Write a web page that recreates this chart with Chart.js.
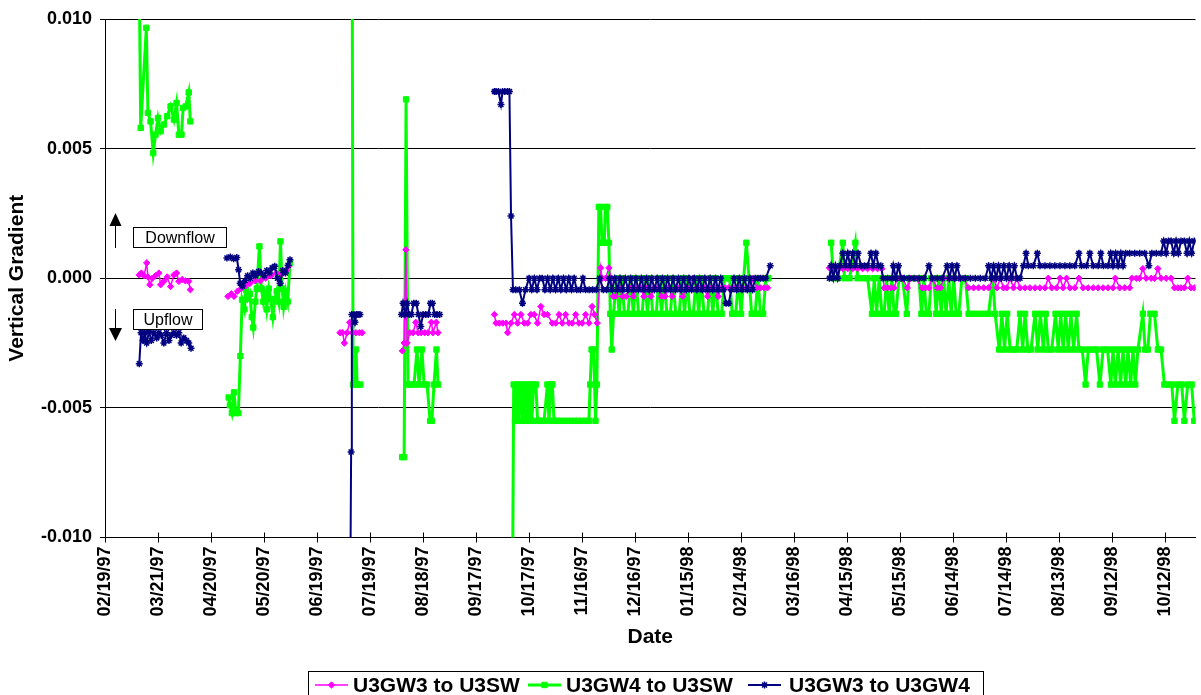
<!DOCTYPE html>
<html>
<head>
<meta charset="utf-8">
<title>Vertical Gradient</title>
<script src="https://cdn.jsdelivr.net/npm/chart.js@4.4.1/dist/chart.umd.min.js"></script>
<style>
  html, body { margin: 0; padding: 0; background: #fff; }
  #wrap { width: 1201px; height: 695px; }
</style>
</head>
<body>
<div id="wrap"><canvas id="gradient-chart" width="1201" height="695"></canvas></div>
<script>
// days counted from 02/19/97, value = vertical gradient; null breaks the line
const gw3sw = [
  // Mar-Apr 97
  [19.3, 0.00013], [20.6, 0.0002], [22.1, 0.0001], [23.6, 0.00059], [24.3, 0.00005], [25.4, -0.00025],
  [26.8, 0], [28.6, 0.0001], [30.5, 0.0002], [31.5, -0.00025], [33.3, -0.00012], [35.2, 0.00005],
  [37.1, -0.00032], [39, 0.00013], [40.5, 0.0002], [41.8, -0.00012], [43.7, -0.00005], [45.5, -0.0001],
  [47.4, -0.00012], [48.3, -0.00044],
  [55, null],
  // May-Jun 97
  [69.6, -0.0007], [71.5, -0.0006], [73, -0.0007], [75, -0.0005], [77, -0.0004], [79.5, -0.0003],
  [82, -0.0002], [85, -0.0001], [88, -0.0001], [91, 0], [94, 0.0001], [97, 0.0002], [100, 0.00015],
  [102.5, 0.0003], [104, 0.00046],
  [120, null],
  // Jul 97
  [133, -0.0021], [134.5, -0.0021], [135.5, -0.0025], [137, -0.0021], [138.5, -0.0017], [140, -0.0021],
  [142, -0.0021], [144, -0.0021], [145.5, -0.0021],
  [155, null],
  // Aug 97
  [168.3, -0.0028], [169.3, -0.0025], [170.3, 0.0011], [171, -0.0025], [172.5, -0.0021], [174.4, -0.0021],
  [175.9, -0.0017], [177.2, -0.0021], [179, -0.0021], [181, -0.0021], [182.8, -0.0021], [184.7, -0.0017],
  [185.6, -0.0021], [187.5, -0.0017], [188.5, -0.0021],
  [200, null],
  // Oct 97 - Mar 98
  [220.4, -0.0014], [221.3, -0.00173], [223.2, -0.00173], [225.1, -0.00173], [227, -0.00173], [227.9, -0.0021],
  [229.8, -0.00173], [231.7, -0.0014], [233.5, -0.00173], [235.4, -0.0014], [237.3, -0.00173], [239.2, -0.00173],
  [241, -0.0014], [242.9, -0.0014], [244.8, -0.00173], [246.7, -0.00109], [248.5, -0.0014], [250.4, -0.0014],
  [253.2, -0.00173], [255.1, -0.00173], [257, -0.0014], [258.8, -0.00173], [260.7, -0.0014], [262.6, -0.00173],
  [264.5, -0.00173], [266.4, -0.0014], [268.2, -0.00173], [270.1, -0.00173], [272, -0.0014], [273.9, -0.00173],
  [275.7, -0.00109], [277, -0.0014], [278.6, -0.00173], [280.5, 0.0004], [281.4, 0], [283.3, 0],
  [285.2, 0.0004], [286.5, 0], [287.6, -0.0007], [289, -0.0007], [291, -0.00037], [293, -0.0007],
  [295, -0.0007], [297, -0.00037], [299, -0.0007], [301, -0.00037], [303, -0.00037], [305, -0.0007],
  [307, -0.00037], [309, -0.0007], [311, -0.00037], [313, -0.00037], [315, -0.0007], [317, -0.0007],
  [319, -0.00037], [321, -0.0007], [323, -0.00037], [325, -0.00037], [327, -0.0007], [329, -0.00037],
  [331, -0.00037], [333, 0], [335, -0.00037], [337, -0.00037], [339, -0.00037], [341, -0.0007],
  [343, -0.00037], [345, -0.00037], [347, -0.0007], [349, -0.00037], [351, -0.00037], [353, -0.00037],
  [355, -0.00037], [357, -0.00037], [359, -0.00037], [361, -0.00037], [363, -0.00037], [365, -0.00037],
  [367, 0], [369, -0.00037], [371, -0.00037], [373, -0.00037], [375, -0.00037],
  [392, null],
  // Apr-Oct 98
  [410, 0.0004], [412, 0.0004], [413.8, 0.0004], [415.7, 0.0004], [417.6, 0.00037], [420.4, 0.00037],
  [423.2, 0.00037], [426, 0.00037], [428.8, 0.00037], [431.6, 0.00037], [434.5, 0.00037], [437.3, 0.00037],
  [439.7, 0.00037], [441, -0.00037], [442.9, -0.00037], [444.8, -0.00037], [446.6, -0.00037], [448.5, 0],
  [451.3, 0], [454.1, -0.00037], [456, 0], [458.8, 0], [462.5, -0.00037], [464.4, -0.00037],
  [466.3, -0.00037], [468.2, 0], [471, -0.00037], [472.9, -0.00037], [474.7, 0], [477.6, 0],
  [480.4, 0], [483.2, 0], [486, 0], [488.8, -0.00037], [491.6, -0.00037], [494.4, -0.00037],
  [497.3, -0.00037], [500.1, -0.00037], [502.9, 0], [504.8, -0.00037], [506.7, 0], [508.5, -0.00037],
  [510.4, -0.00037], [512.3, 0], [514.2, -0.00037], [516, 0], [517.9, -0.00037], [520.7, -0.00037],
  [523.5, -0.00037], [526.4, -0.00037], [529.2, -0.00037], [532, -0.00037], [533.9, 0], [535.8, -0.00037],
  [538.6, -0.00037], [540.5, 0], [542.3, -0.00037], [544.2, 0], [546.1, -0.00037], [548.9, -0.00037],
  [551.2, 0], [553.6, -0.00037], [556.4, -0.00037], [559.3, -0.00037], [562.1, -0.00037], [564.9, -0.00037],
  [567.7, -0.00037], [570.5, -0.00037], [571.8, 0], [574.3, -0.00037], [577.1, -0.00037], [579.9, -0.00037],
  [581.2, 0], [583.7, 0], [585.6, 0], [587.4, 0.00037], [589.3, 0], [592.1, 0],
  [594, 0], [595.9, 0.00037], [597.7, 0], [600.6, 0], [603.4, 0], [605.3, -0.00037],
  [607.2, -0.00037], [609, -0.00037], [610.9, -0.00037], [612.8, 0], [614.7, -0.00037], [616.5, -0.00037],
  [619, -0.00037]
];

const gw4sw = [
  // Mar-Apr 97
  [19.4, 0.0115], [20.2, 0.0058], [23.4, 0.00966], [24.3, 0.00638], [25.8, 0.00605], [27.3, 0.00483],
  [28.6, 0.00554], [30, 0.00618], [31.5, 0.00567], [33.3, 0.00593], [35.2, 0.00625], [37.1, 0.00663],
  [39, 0.00612], [40.5, 0.00676], [41.8, 0.00554], [43.3, 0.00554], [44.2, 0.00657], [45.7, 0.00663],
  [47.4, 0.00717], [48.3, 0.00605],
  [55, null],
  // May-Jun 97
  [70, -0.0046], [70.7, -0.0049], [71.8, -0.0052], [73, -0.0044], [74.1, -0.0052], [75.5, -0.0052],
  [76.6, -0.003], [77.6, -0.00083], [78.9, -0.0012], [79.7, -0.00044], [80.8, -0.0008], [82, -0.0006],
  [83.1, -0.0015], [83.9, -0.0019], [85.1, -0.0009], [85.9, -0.0004], [87.4, 0.00123], [88.5, -0.0004],
  [89.6, -0.0009], [90.4, -0.0006], [91.5, -0.0012], [92.7, -0.0004], [93.8, -0.0008], [95, -0.0015],
  [96.1, -0.0008], [97.2, -0.0005], [98.3, -0.0009], [99.3, 0.00142], [100.3, -0.0004], [101.1, -0.0011],
  [102.3, -0.0005], [103.4, -0.0009], [104.7, 0.0006],
  [120, null],
  // Jul 97
  [139.9, 0.013], [140.4, -0.0041], [141.5, -0.0041], [142.1, -0.00275], [142.7, -0.0041], [144.5, -0.0041],
  [155, null],
  // Aug 97
  [168.2, -0.0069], [169.3, -0.0069], [170.4, 0.0069], [171.5, -0.0041], [173.2, -0.0041], [174.9, -0.0041],
  [176.6, -0.00275], [177.7, -0.0041], [179.4, -0.00275], [180.6, -0.0041], [182.3, -0.0041], [184, -0.0055],
  [185, -0.0055], [186.2, -0.0041], [187.6, -0.00275], [188.5, -0.0041],
  [200, null],
  // Oct 97 - Mar 98
  [230.7, -0.0115], [231.3, -0.0041], [232, -0.0055], [233.1, -0.0041], [233.9, -0.0055], [235, -0.0041],
  [236, -0.0055], [236.9, -0.0041], [237.9, -0.0055], [238.8, -0.0041], [239.7, -0.0055], [240.7, -0.0041],
  [241.6, -0.0055], [242.6, -0.0041], [243.9, -0.0041], [244.8, -0.0055], [245.7, -0.0055], [246.7, -0.0055],
  [248.5, -0.0055], [250.4, -0.0041], [251.3, -0.0055], [252.3, -0.0041], [253.2, -0.0041], [254.1, -0.0055],
  [256, -0.0055], [258, -0.0055], [260, -0.0055], [262, -0.0055], [264, -0.0055], [266, -0.0055],
  [268, -0.0055], [270, -0.0055], [272, -0.0055], [273.9, -0.0055], [274.6, -0.0041], [275.4, -0.00275],
  [276.6, -0.00275], [277.6, -0.0055], [278.4, -0.0041], [279.5, 0.00275], [280.5, 0.00275], [281.3, 0.00137],
  [282.6, 0.00137], [283.2, 0.00275], [284.3, 0.00275], [285.2, 0.00137], [286, -0.00137], [286.8, -0.00275],
  [287.8, -0.00137], [289.5, 0], [291, -0.00137], [292.5, 0], [294, -0.00137], [296, -0.00137],
  [297.5, 0], [299, -0.00137], [300.5, 0], [302, -0.00137], [304, -0.00137], [305.5, 0],
  [307, -0.00137], [308.5, 0], [310, -0.00137], [312, -0.00137], [313.5, 0], [315, -0.00137],
  [316.5, 0], [318, -0.00137], [320, -0.00137], [321.5, 0], [323, -0.00137], [325, -0.00137],
  [326.5, 0], [328, -0.00137], [329.5, 0], [331, -0.00137], [333, -0.00137], [334.5, 0],
  [336, -0.00137], [337.5, 0], [339, -0.00137], [341, -0.00137], [342.5, 0], [344, -0.00137],
  [345.5, 0], [347, -0.00137], [349, -0.00137], [350.5, 0], [352, 0], [353.5, 0],
  [355, -0.00137], [357, -0.00137], [358.5, 0], [360, -0.00137], [361.5, 0], [363, 0.00137],
  [364.5, 0], [366, -0.00137], [368, -0.00137], [369.5, 0], [371, -0.00137], [372.5, -0.00137],
  [374, 0], [375.5, 0],
  [392, null],
  // Apr-Oct 98
  [411, 0.00137], [412.3, 0], [414.7, 0], [417.6, 0.00137], [418.5, 0], [421.4, 0],
  [424.7, 0.00137], [426, 0], [428.8, 0], [431.6, 0], [434.1, -0.00137], [435.4, 0],
  [436.7, -0.00137], [438.2, 0], [439.7, -0.00137], [441, -0.00137], [442.3, 0], [443.8, -0.00137],
  [445.4, 0], [446.6, -0.00137], [447.6, -0.00137], [449.4, 0], [451.3, 0], [453.8, -0.00137],
  [455, 0], [457.8, 0], [460.7, 0], [462.1, -0.00137], [463.5, 0], [464.8, -0.00137],
  [466.3, -0.00137], [467.6, 0], [469.1, 0], [470.4, -0.00137], [471.9, 0], [473.3, -0.00137],
  [474.7, 0], [476, -0.00137], [477.6, 0], [478.9, -0.00137], [480.4, 0], [481.7, -0.00137],
  [483.2, -0.00137], [485, 0], [487, 0], [488.8, -0.00137], [491.6, -0.00137], [494.4, -0.00137],
  [497.3, -0.00137], [500.1, -0.00137], [502.4, 0], [503.8, -0.00137], [506.1, -0.00275], [507.6, -0.00137],
  [509.1, -0.00275], [510.6, -0.00137], [512.3, -0.00275], [514.2, -0.00275], [516, -0.00275], [517.9, -0.00137],
  [519.4, -0.00275], [520.7, -0.00137], [522.3, -0.00275], [524.1, -0.00275], [526.4, -0.00137], [527.9, -0.00275],
  [529.4, -0.00137], [531.1, -0.00275], [532.4, -0.00137], [533.9, -0.00275], [535.8, -0.00275], [538, -0.00137],
  [539.5, -0.00275], [540.9, -0.00137], [542.3, -0.00275], [543.7, -0.00137], [545.2, -0.00275], [546.7, -0.00137],
  [548.2, -0.00275], [549.9, -0.00137], [551.2, -0.00275], [553.1, -0.00275], [555, -0.0041], [556.5, -0.00275],
  [559.3, -0.00275], [561.2, -0.00275], [563.1, -0.0041], [564.9, -0.00275], [567.4, -0.00275], [569.3, -0.0041],
  [570.5, -0.00275], [571.8, -0.0041], [573.4, -0.00275], [574.8, -0.0041], [576.2, -0.00275], [577.7, -0.0041],
  [579, -0.00275], [580.5, -0.0041], [581.8, -0.00275], [583.1, -0.0041], [584.6, -0.00275], [587.4, -0.00137],
  [588.7, -0.00275], [590.2, -0.00275], [591.7, -0.00137], [594, -0.00137], [595.9, -0.00275], [597.7, -0.00275],
  [599.6, -0.0041], [601.5, -0.0041], [603.8, -0.0041], [605.3, -0.0055], [607.2, -0.0041], [609.4, -0.0041],
  [610.9, -0.0055], [612.8, -0.0041], [615, -0.0041], [616.5, -0.0055], [619, -0.0055]
];

const gw3gw4 = [
  // Mar-Apr 97
  [19.4, -0.0033], [20.4, -0.0021], [21.5, -0.0024], [22.5, -0.0021], [23.6, -0.0025], [24.9, -0.00205],
  [26.2, -0.0024], [27.7, -0.0021], [29.3, -0.0023], [30.5, -0.0021], [31.9, -0.0022], [33.3, -0.0025],
  [34.8, -0.0021], [36.2, -0.0024], [37.5, -0.0022], [39, -0.0021], [40.5, -0.0022], [41.8, -0.0021],
  [43.1, -0.0025], [44.6, -0.0023], [46.1, -0.0024], [47.4, -0.0025], [48.7, -0.0027],
  [55, null],
  // May-Jun 97
  [69, 0.00078], [70.9, 0.00082], [72.8, 0.00075], [74.6, 0.0008], [75.6, 0.00033], [76.5, -0.00019],
  [77.8, -0.0003], [79.3, -0.0001], [80.7, 0.0001], [82.2, 0], [83.7, 0.0002], [85.2, 0.0001],
  [86.9, 0.00026], [88.4, 0.0002], [90.1, 0.0001], [91.6, 0.0003], [93.1, 0.0002], [94.6, 0.0004],
  [96.1, 0.00046], [97.6, 0], [99.1, -0.00019], [100.6, 0.0003], [102.1, 0.0002], [103.6, 0.0005],
  [104.7, 0.00071],
  [120, null],
  // Jul 97
  [138.8, -0.0125], [139.3, -0.0067], [139.7, -0.0014], [140.8, -0.0014], [141.5, -0.0017], [142.3, -0.0014],
  [143.2, -0.0014], [144.3, -0.0014],
  [155, null],
  // Aug 97
  [167.8, -0.0014], [168.7, -0.00096], [169.9, -0.0014], [171, -0.00096], [172.1, -0.0014], [173.4, -0.0014],
  [174.7, -0.00096], [176.2, -0.00096], [177.4, -0.0014], [178.7, -0.00186], [180, -0.0014], [181.5, -0.0014],
  [183, -0.0014], [184.2, -0.00096], [185.3, -0.00096], [186.6, -0.0014], [187.9, -0.0014], [189.4, -0.0014],
  [200, null],
  // Oct 97 - Mar 98
  [220.4, 0.0072], [221.3, 0.0072], [222.7, 0.0072], [224.1, 0.0067], [225, 0.0072], [226.3, 0.0072],
  [227.8, 0.0072], [228.9, 0.0072], [229.8, 0.0024], [230.9, -0.00044], [232.5, -0.00044], [234.5, -0.00044],
  [236.3, -0.00096], [238, -0.00044], [240, 0], [241.5, -0.00044], [243, 0], [244.5, -0.00044],
  [246, 0], [247.5, 0], [249, -0.00044], [250.5, 0], [252, -0.00044], [253.5, 0],
  [255, -0.00044], [256.5, 0], [258, -0.00044], [259.5, 0], [261, -0.00044], [262.5, 0],
  [264, -0.00044], [265.5, 0], [267, -0.00044], [269, -0.00044], [270.5, 0], [272, -0.00044],
  [274, -0.00044], [276, -0.00044], [278, -0.00044], [280, 0], [282, -0.00044], [284, -0.00044],
  [285.5, 0], [287, -0.00044], [288.5, 0], [290, -0.00044], [291.5, 0], [293, -0.00044],
  [294.5, 0], [296, -0.00044], [297.5, 0], [299, -0.00044], [300.5, 0], [302, -0.00044],
  [303.5, 0], [305, -0.00044], [306.5, 0], [308, -0.00044], [309.5, 0], [311, -0.00044],
  [312.5, 0], [314, -0.00044], [315.5, 0], [317, -0.00044], [318.5, 0], [320, -0.00044],
  [321.5, 0], [323, -0.00044], [324.5, 0], [326, -0.00044], [327.5, 0], [329, -0.00044],
  [330.5, 0], [332, -0.00044], [333.5, 0], [335, -0.00044], [336.5, 0], [338, -0.00044],
  [339.5, 0], [341, -0.00044], [342.5, 0], [344, -0.00044], [345.5, 0], [347, -0.00044],
  [348.5, 0], [350, -0.00044], [351.5, -0.00096], [353, -0.00096], [354.5, -0.00044], [356, 0],
  [357.5, -0.00044], [359, 0], [360.5, -0.00044], [362, 0], [363.5, -0.00044], [365, 0],
  [366.5, -0.00044], [368, 0], [369.5, 0], [371, 0], [372.5, 0], [374, 0],
  [376.5, 0.00048],
  [392, null],
  // Apr-Oct 98
  [410, 0], [411, 0.00048], [412.2, 0], [413.4, 0.00048], [414.7, 0], [416, 0.00048],
  [417.6, 0.00096], [419.1, 0.00048], [420.4, 0.00096], [421.7, 0.00048], [423.2, 0.00096], [424.7, 0.00048],
  [426.2, 0.00096], [427.9, 0.00048], [429.8, 0.00048], [431.6, 0.00048], [433.5, 0.00096], [434.8, 0.00048],
  [436.3, 0.00096], [437.8, 0.00048], [439.1, 0.00048], [440.4, 0], [442.9, 0], [445.4, 0],
  [446.2, 0.00048], [447.6, 0], [449.1, 0.00048], [450.6, 0], [452.3, 0], [455.1, 0],
  [457.9, 0], [460.8, 0], [463.5, 0], [466.3, 0.00048], [468.2, 0], [471, 0],
  [473.8, 0], [476.6, 0.00048], [477.9, 0], [479.4, 0.00048], [480.9, 0], [482.2, 0.00048],
  [484.1, 0], [486.9, 0], [489.8, 0], [492.6, 0], [495.4, 0], [498.2, 0],
  [500.1, 0.00048], [501.6, 0], [502.9, 0.00048], [504.4, 0], [505.7, 0.00048], [507.2, 0],
  [508.7, 0.00048], [510.2, 0], [511.7, 0.00048], [513.2, 0], [514.7, 0.00048], [516.2, 0],
  [517.9, 0], [519.8, 0.00048], [521.3, 0.00096], [522.6, 0.00048], [525.4, 0.00048], [527.7, 0.00096],
  [529.2, 0.00048], [532, 0.00048], [534.8, 0.00048], [537.6, 0.00048], [540.5, 0.00048], [543.3, 0.00048],
  [546.1, 0.00048], [548.9, 0.00048], [551.2, 0.00096], [552.7, 0.00048], [555.5, 0.00048], [557.4, 0.00096],
  [559.3, 0.00048], [562.1, 0.00048], [563.6, 0.00096], [565.1, 0.00048], [567.7, 0.00048], [569.2, 0.00096],
  [570.5, 0.00048], [572, 0.00096], [573.4, 0.00048], [574.9, 0.00096], [576.2, 0.00048], [577.7, 0.00096],
  [579.9, 0.00096], [582.8, 0.00096], [585.6, 0.00096], [588.4, 0.00096], [590.8, 0.00048], [592.5, 0.00096],
  [595, 0.00096], [597.7, 0.00096], [599.2, 0.00144], [600.6, 0.00096], [601.9, 0.00144], [603.4, 0.00144],
  [604.9, 0.00096], [606.2, 0.00144], [607.5, 0.00096], [609, 0.00144], [610.9, 0.00144], [612.4, 0.00096],
  [613.7, 0.00144], [615, 0.00096], [616.5, 0.00144], [619, 0.00144]
];

const seriesNames = ['U3GW3 to U3SW', 'U3GW4 to U3SW', 'U3GW3 to U3GW4'];
const seriesColors = ['#ff00ff', '#00ff00', '#000080'];
const yTicks = [-0.010, -0.005, 0.000, 0.005, 0.010];
const dayStep = 30;          // one date label every 30 days
const dayMax = 617.2;        // right edge of the visible plot
const startDate = Date.UTC(1997, 1, 19);

function dayLabel(d) {
  const dt = new Date(startDate + Math.round(d) * 86400000);
  const mm = String(dt.getUTCMonth() + 1).padStart(2, '0');
  const dd = String(dt.getUTCDate()).padStart(2, '0');
  const yy = String(dt.getUTCFullYear()).slice(2);
  return `${mm}/${dd}/${yy}`;
}

function toPoints(rows) {
  return rows.map(r => ({ x: r[0], y: r[1] }));
}

const FONT = "'Liberation Sans', Arial, sans-serif";
Chart.defaults.font.family = FONT;
Chart.defaults.color = '#000';

const markerStyles = [
  { pointStyle: 'rectRot', radius: 3.2, borderWidth: 1, lineWidth: 1.5 },
  { pointStyle: 'rect', radius: 3.8, borderWidth: 1, lineWidth: 3 },
  { pointStyle: 'star', radius: 3.5, borderWidth: 1.5, lineWidth: 2 }
];

// Downflow / Upflow notes, x-axis inner tick marks and the framed legend
const decorations = {
  id: 'decorations',
  afterDraw(chart) {
    const ctx = chart.ctx;
    const area = chart.chartArea;
    const xs = chart.scales.x;
    ctx.save();

    // tick marks crossing the date axis
    ctx.strokeStyle = '#000';
    ctx.lineWidth = 1;
    ctx.beginPath();
    xs.ticks.forEach(t => {
      const px = Math.round(xs.getPixelForValue(t.value)) + 0.5;
      ctx.moveTo(px, area.bottom - 5);
      ctx.lineTo(px, area.bottom);
    });
    ctx.stroke();

    // note boxes
    ctx.font = '16px ' + FONT;
    ctx.textAlign = 'center';
    ctx.textBaseline = 'middle';
    [['Downflow', 133.5, 227.5, 93, 20], ['Upflow', 133.5, 309.5, 69, 20]].forEach(([txt, x, y, w, h]) => {
      ctx.fillStyle = '#fff';
      ctx.fillRect(x, y, w, h);
      ctx.strokeRect(x, y, w, h);
      ctx.fillStyle = '#000';
      ctx.fillText(txt, x + w / 2, y + h / 2 + 1);
    });

    // arrows
    ctx.fillStyle = '#000';
    ctx.beginPath();
    ctx.moveTo(115.5, 248); ctx.lineTo(115.5, 224);
    ctx.moveTo(115.5, 309); ctx.lineTo(115.5, 330);
    ctx.stroke();
    ctx.beginPath();
    ctx.moveTo(115.5, 213); ctx.lineTo(109.5, 226); ctx.lineTo(121.5, 226); ctx.closePath();
    ctx.moveTo(115.5, 341); ctx.lineTo(109, 328); ctx.lineTo(122, 328); ctx.closePath();
    ctx.fill();

    // legend
    ctx.strokeStyle = '#000';
    ctx.lineWidth = 1;
    ctx.strokeRect(308.5, 671.5, 675, 34);
    const ly = 685;
    const slots = [[315, 353], [528, 566], [748, 789]];
    ctx.font = 'bold 21px ' + FONT;
    ctx.textAlign = 'left';
    seriesNames.forEach((name, i) => {
      const [sx, tx] = slots[i];
      const m = markerStyles[i];
      ctx.strokeStyle = seriesColors[i];
      ctx.lineWidth = m.lineWidth;
      ctx.beginPath();
      ctx.moveTo(sx, ly);
      ctx.lineTo(sx + 33, ly);
      ctx.stroke();
      ctx.fillStyle = seriesColors[i];
      ctx.lineWidth = m.borderWidth;
      Chart.helpers.drawPoint(ctx, {
        pointStyle: m.pointStyle, radius: m.radius, rotation: 0, borderWidth: m.borderWidth
      }, sx + 16.5, ly);
      ctx.fillStyle = '#000';
      ctx.fillText(name, tx, ly + 1);
    });
    ctx.restore();
  }
};

const seriesRows = [gw3sw, gw4sw, gw3gw4];
const drawOrder = [1, 2, 0]; // navy on top, then magenta, then green

new Chart(document.getElementById('gradient-chart'), {
  type: 'line',
  data: {
    datasets: seriesRows.map((rows, i) => ({
      label: seriesNames[i],
      data: toPoints(rows),
      borderColor: seriesColors[i],
      backgroundColor: seriesColors[i],
      borderWidth: markerStyles[i].lineWidth,
      pointStyle: markerStyles[i].pointStyle,
      pointRadius: markerStyles[i].radius,
      pointBorderWidth: markerStyles[i].borderWidth,
      pointBorderColor: seriesColors[i],
      pointBackgroundColor: seriesColors[i],
      tension: 0,
      spanGaps: false,
      clip: 0,
      order: drawOrder[i]
    }))
  },
  options: {
    responsive: false,
    animation: false,
    events: [],
    devicePixelRatio: 1,
    layout: { padding: { top: 19, right: 0, bottom: 35, left: 0 } },
    plugins: {
      legend: { display: false },
      tooltip: { enabled: false }
    },
    scales: {
      x: {
        type: 'linear',
        min: 0,
        max: dayMax,
        afterBuildTicks(scale) {
          scale.ticks = scale.ticks.filter(t => Math.abs(t.value / dayStep - Math.round(t.value / dayStep)) < 1e-6);
        },
        afterFit(scale) { scale.height = 122.5; },
        ticks: {
          stepSize: dayStep,
          autoSkip: false,
          minRotation: 90,
          maxRotation: 90,
          padding: 4,
          font: { size: 18, weight: 'bold' },
          color: '#000',
          callback: v => dayLabel(v)
        },
        grid: { drawOnChartArea: false, drawTicks: true, tickLength: 5, color: '#000' },
        border: { display: true, color: '#000', width: 1 },
        title: {
          display: true,
          text: 'Date',
          font: { size: 21, weight: 'bold' },
          color: '#000',
          padding: { top: 4, bottom: 10 }
        }
      },
      y: {
        min: -0.01,
        max: 0.01,
        afterBuildTicks(scale) {
          scale.ticks = yTicks.map(v => ({ value: v }));
        },
        afterFit(scale) { scale.width = 105; },
        ticks: {
          stepSize: 0.005,
          padding: 8,
          font: { size: 18, weight: 'bold' },
          color: '#000',
          callback: v => v.toFixed(3)
        },
        grid: { color: '#000', lineWidth: 1, tickLength: 5 },
        border: { display: true, color: '#000', width: 1 },
        title: {
          display: true,
          text: 'Vertical Gradient',
          font: { size: 21, weight: 'bold' },
          color: '#000',
          padding: { top: 5, bottom: 0 }
        }
      }
    }
  },
  plugins: [decorations]
});
</script>
</body>
</html>
